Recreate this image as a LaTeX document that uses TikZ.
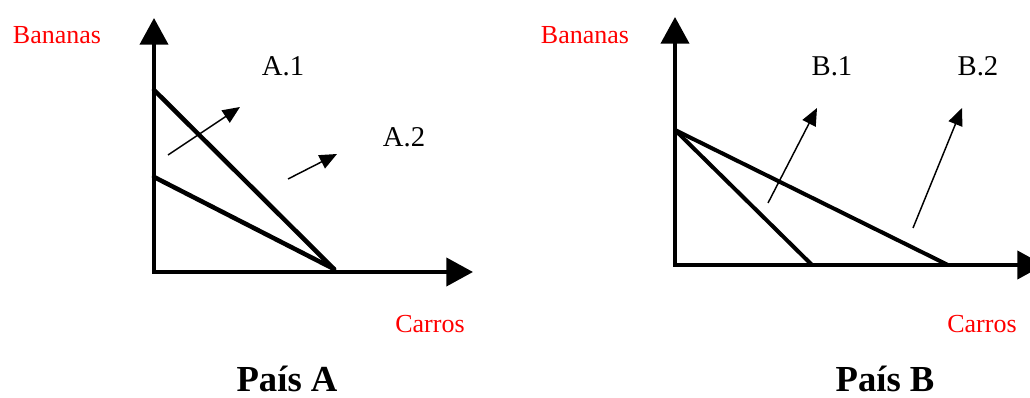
\documentclass[tikz,border=0pt]{standalone}
\usepackage{fontspec}
\setmainfont{Liberation Serif}
\usetikzlibrary{arrows.meta}
\begin{document}
\begin{tikzpicture}[x=0.75pt,y=-0.75pt,
  axis/.style={line width=3pt, -{Triangle[width=21pt,length=20pt]}},
  ppf/.style={line width=3.4pt, line cap=round},
  ppfb/.style={line width=3pt, line cap=round},
  shiftarrow/.style={line width=1.1pt, -{Triangle[width=11pt,length=13pt]}},
  redlbl/.style={text=red, font=\fontsize{19.5}{22}\selectfont, inner sep=0pt, anchor=base},
  curvelbl/.style={font=\fontsize{21.5}{24}\selectfont, inner sep=0pt, anchor=base},
  titlelbl/.style={font=\bfseries\fontsize{27.5}{32}\selectfont, inner sep=0pt, anchor=base}]
\clip (0,0) rectangle (1030,398);
\fill[white] (0,0) rectangle (1030,398);

% ---------- Panel A ----------
\coordinate (OA) at (154,272);
\coordinate (YA) at (154,18);
\coordinate (XA) at (473,272);
\coordinate (a1) at (154,90);
\coordinate (a2) at (154,177);
\coordinate (ax) at (334,269);
\coordinate (sa1) at (168,155);
\coordinate (ta1) at (240,107);
\coordinate (sa2) at (288,179);
\coordinate (ta2) at (337,154);

\draw[ppf] (a1) -- (ax);
\draw[ppf] (a2) -- (ax);
\draw[axis] ([yshift=-1.5pt]OA) -- (YA);
\draw[axis] ([xshift=-1.5pt]OA) -- (XA);
\draw[shiftarrow] (sa1) -- (ta1);
\draw[shiftarrow] (sa2) -- (ta2);

\node[redlbl] (banA) at (57,44) {Bananas};
\node[redlbl] (carA) at (430,333) {Carros};
\node[curvelbl] (A1) at (283,76) {A.1};
\node[curvelbl] (A2) at (404,147) {A.2};
\node[titlelbl] (paisA) at (287,392) {País A};

% ---------- Panel B ----------
\coordinate (OB) at (675,265);
\coordinate (YB) at (675,17);
\coordinate (XB) at (1044,265);
\coordinate (b0) at (675,130);
\coordinate (b1) at (812,265);
\coordinate (b2) at (948,265);
\coordinate (sb1) at (768,203);
\coordinate (tb1) at (817,108);
\coordinate (sb2) at (913,228);
\coordinate (tb2) at (962,108);

\draw[ppfb] (b0) -- (b1);
\draw[ppfb] (b0) -- (b2);
\draw[axis] ([yshift=-1.5pt]OB) -- (YB);
\draw[axis] ([xshift=-1.5pt]OB) -- (XB);
\draw[shiftarrow] (sb1) -- (tb1);
\draw[shiftarrow] (sb2) -- (tb2);

\node[redlbl] (banB) at (585,44) {Bananas};
\node[redlbl] (carB) at (982,333) {Carros};
\node[curvelbl] (B1) at (832,76) {B.1};
\node[curvelbl] (B2) at (978,76) {B.2};
\node[titlelbl] (paisB) at (885,392) {País B};
\end{tikzpicture}
\end{document}
